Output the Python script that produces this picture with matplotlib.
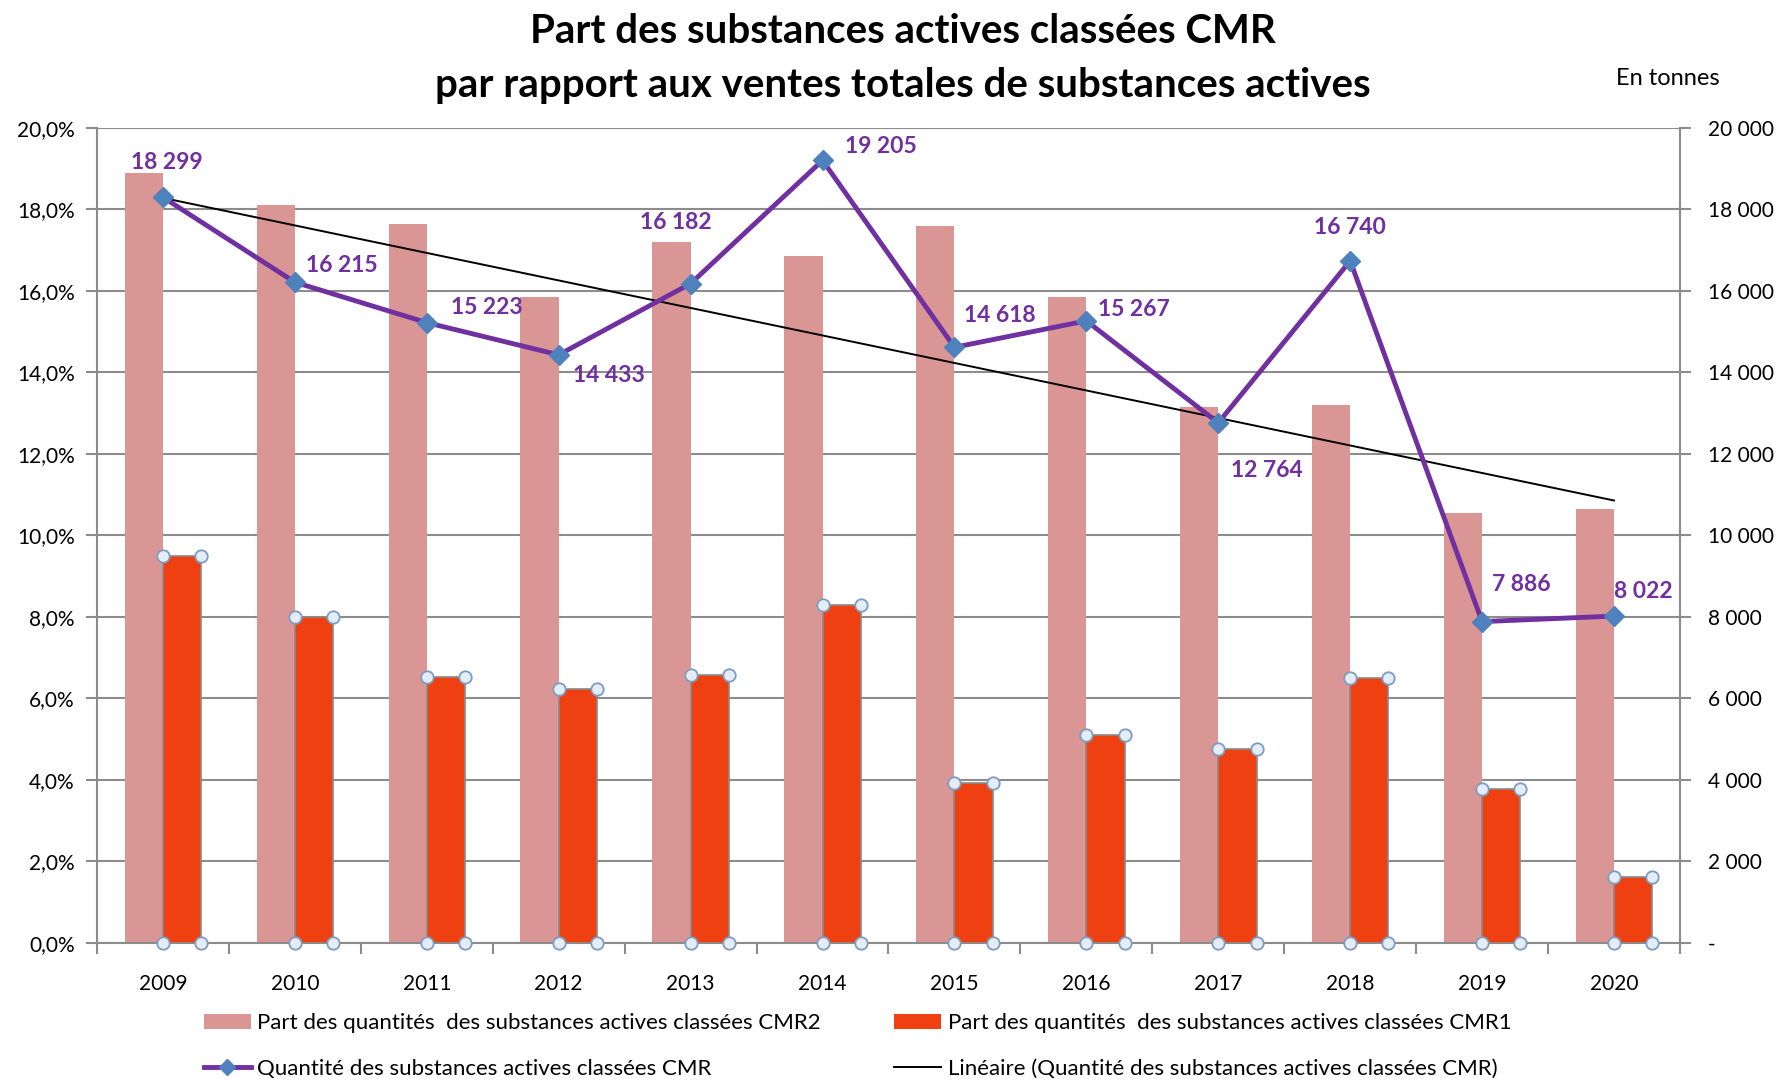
import numpy as np
import matplotlib.pyplot as plt
from matplotlib.lines import Line2D
from matplotlib.patches import Patch

# ---------------------------------------------------------------
# Data
# ---------------------------------------------------------------
years = ["2009", "2010", "2011", "2012", "2013", "2014",
         "2015", "2016", "2017", "2018", "2019", "2020"]
part_cmr2 = [18.9, 18.1, 17.65, 15.85, 17.2, 16.85, 17.6, 15.85, 13.15, 13.2, 10.56, 10.64]
part_cmr1 = [9.5, 8.0, 6.52, 6.23, 6.57, 8.3, 3.92, 5.1, 4.76, 6.49, 3.77, 1.62]
qte_cmr = [18299, 16215, 15223, 14433, 16182, 19205, 14618, 15267, 12764, 16740, 7886, 8022]
# label offsets (points) for the line values
lbl_dx = [3, 34, 43, 36, -11, 42, 33, 34, 35, 0, 28, 21]
lbl_dy = [25, 12, 11, -15, 44, 10, 23, 8, -34, 24, 27, 18]

pct_ticks = [0, 2, 4, 6, 8, 10, 12, 14, 16, 18, 20]
ton_ticks = [0, 2000, 4000, 6000, 8000, 10000, 12000, 14000, 16000, 18000, 20000]

plt.rcParams['font.family'] = ['Lato', 'DejaVu Sans']

PINK = "#D99694"
ORANGE = "#EE4011"
PURPLE = "#7030A0"
BLUE = "#4F81BD"
GRID = "#8C8C8C"

fig = plt.figure(figsize=(17.8, 10.81), dpi=100)
ax = fig.add_axes([0.0545, 0.1277, 0.8893, 0.7539])
ax2 = ax.twinx()

x = np.arange(len(years))
w = 0.29

# ---------------------------------------------------------------
# Bars (left axis, %)
# ---------------------------------------------------------------
ax.bar(x, part_cmr2, width=-w, align='edge', color=PINK, zorder=2)
ax.bar(x, part_cmr1, width=w, align='edge', color=ORANGE,
       edgecolor="#8A8A8A", linewidth=1.2, zorder=3)

# selection handles at the corners of the CMR1 bars
cx = np.concatenate([x, x + w, x, x + w])
cy = np.concatenate([part_cmr1, part_cmr1, np.zeros(len(x)), np.zeros(len(x))])
ax.scatter(cx, cy, s=80, facecolor="#E4ECF5", edgecolor="#7C9CC0",
           linewidth=1.3, zorder=4, clip_on=False)

ax.set_xlim(-0.5, len(years) - 0.5)
ax.set_ylim(0, 20)
ax.set_yticks(pct_ticks)
ax.set_yticklabels([f"{v:.1f}%".replace(".", ",") for v in pct_ticks])
ax.yaxis.grid(True, color=GRID, linewidth=1.5)
ax.set_axisbelow(True)

ax.set_xticks(x)
ax.set_xticklabels(years)
ax.set_xticks(np.arange(-0.5, len(years)), minor=True)
ax.tick_params(axis='x', which='major', length=0, pad=22, labelsize=15)
ax.tick_params(axis='x', which='minor', length=8, width=1.5, color=GRID)
ax.tick_params(axis='y', length=8, width=1.5, color=GRID, labelsize=15, pad=8)

for s in ["left", "right", "bottom"]:
    ax.spines[s].set_color(GRID)
    ax.spines[s].set_linewidth(1.5)
ax.spines["top"].set_visible(False)

# ---------------------------------------------------------------
# Line + trend (right axis, tonnes)
# ---------------------------------------------------------------
coef = np.polyfit(x, qte_cmr, 1)
ax2.plot(x, np.polyval(coef, x), color="black", linewidth=1.4, zorder=3)
ax2.plot(x, qte_cmr, color=PURPLE, linewidth=3.5, marker='D', markersize=10,
         markerfacecolor=BLUE, markeredgecolor=BLUE, zorder=4)

for i, v in enumerate(qte_cmr):
    lab = f"{v:,}".replace(",", " ")
    ax2.annotate(lab, (x[i], v), xytext=(lbl_dx[i], lbl_dy[i]),
                 textcoords='offset points', ha='center', va='center',
                 color=PURPLE, fontsize=16.5, fontweight='bold')

ax2.set_ylim(0, 20000)
ax2.set_yticks(ton_ticks)
ax2.set_yticklabels(["-" if v == 0 else f"{v:,}".replace(",", " ") for v in ton_ticks])
ax2.tick_params(axis='y', length=8, width=1.5, color=GRID, labelsize=15, pad=12)
for s in ax2.spines.values():
    s.set_visible(False)

# ---------------------------------------------------------------
# Titles and legend
# ---------------------------------------------------------------
fig.text(0.507, 0.971, "Part des substances actives classées CMR",
         ha='center', va='center', fontsize=29, fontweight='bold')
fig.text(0.507, 0.921, "par rapport aux ventes totales de substances actives",
         ha='center', va='center', fontsize=29, fontweight='bold')
fig.text(0.937, 0.927, "En tonnes", ha='center', va='center', fontsize=17)

handles = [
    Patch(facecolor=PINK),
    Line2D([0], [0], color=PURPLE, linewidth=3.5, marker='D', markersize=8,
           markerfacecolor=BLUE, markeredgecolor=BLUE),
    Patch(facecolor=ORANGE),
    Line2D([0], [0], color="black", linewidth=1.4),
]
labels = [
    "Part des quantités  des substances actives classées CMR2",
    "Quantité des substances actives classées CMR",
    "Part des quantités  des substances actives classées CMR1",
    "Linéaire (Quantité des substances actives classées CMR)",
]
fig.legend(handles, labels, ncol=2, loc='upper left',
           bbox_to_anchor=(0.1147, 0.0625), frameon=False, fontsize=16,
           handlelength=2.1, handletextpad=0.3, columnspacing=3.3,
           labelspacing=1.15, borderaxespad=0, borderpad=0)

fig.savefig("out.png", dpi=100)
